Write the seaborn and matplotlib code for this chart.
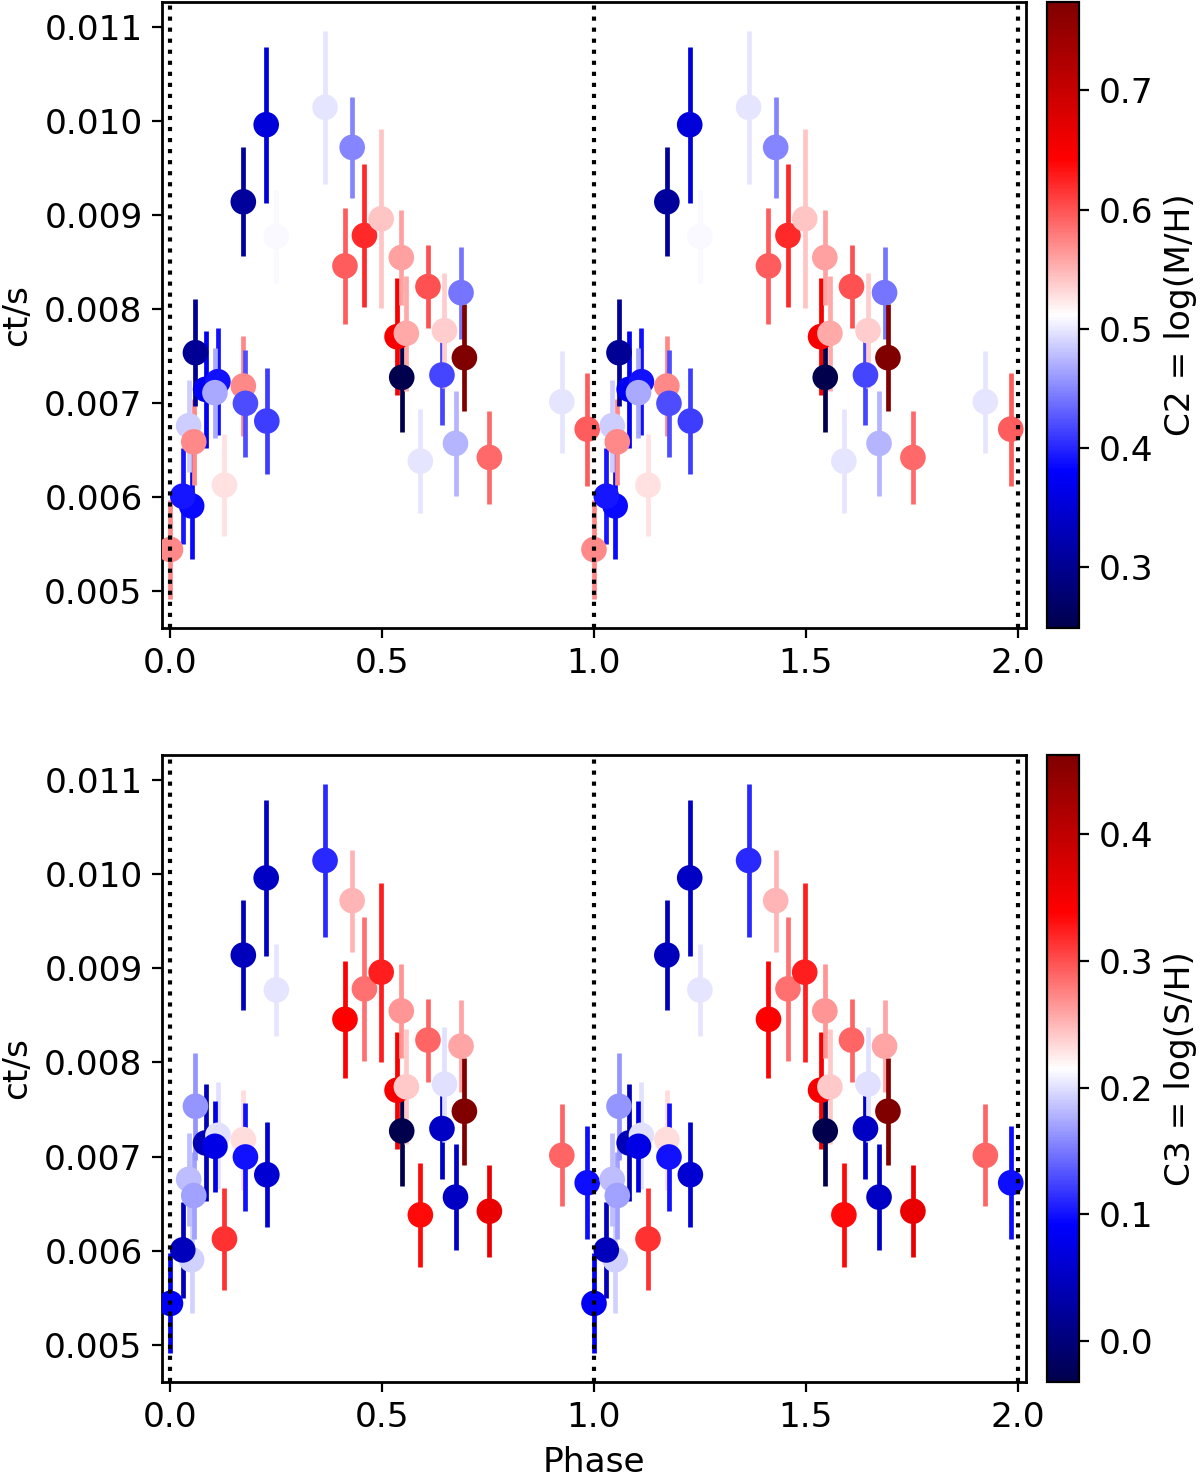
import numpy as np
import pandas as pd
import matplotlib
matplotlib.use("Agg")
import matplotlib.pyplot as plt
import seaborn as sns
from matplotlib.colors import Normalize
from matplotlib.cm import ScalarMappable

# ---- data (phase in [0,1), plotted at phase and phase+1) ----
phase = [0.000, 0.050, 0.029, 0.043, 0.055, 0.059, 0.083, 0.112, 0.105, 0.1275,
         0.172, 0.172, 0.177, 0.226, 0.2275, 0.250, 0.365, 0.412, 0.429, 0.458,
         0.4975, 0.535, 0.545, 0.546, 0.557, 0.590, 0.608, 0.641, 0.647, 0.673,
         0.686, 0.694, 0.753, 0.924, 0.984]
rate = [0.005444, 0.005907, 0.006011, 0.006759, 0.006588, 0.007535, 0.007146, 0.007227, 0.007110, 0.006128,
        0.009138, 0.007181, 0.006997, 0.009957, 0.006809, 0.008769, 0.010142, 0.008457, 0.009716, 0.008780,
        0.008957, 0.007705, 0.008546, 0.007273, 0.007741, 0.006383, 0.008237, 0.007298, 0.007769, 0.006571,
        0.008173, 0.007482, 0.006422, 0.007014, 0.006723]
err = [0.00053, 0.00056, 0.00051, 0.00049, 0.00046, 0.00057, 0.00062, 0.00057, 0.00048, 0.00054,
       0.00058, 0.00053, 0.00057, 0.00083, 0.00056, 0.00049, 0.00081, 0.00062, 0.00054, 0.00076,
       0.00095, 0.00062, 0.00050, 0.00058, 0.00061, 0.00055, 0.00044, 0.00053, 0.00061, 0.00056,
       0.00049, 0.00057, 0.00049, 0.00054, 0.00060]
c2 = [0.573, 0.386, 0.391, 0.485, 0.571, 0.303, 0.370, 0.390, 0.468, 0.527,
      0.307, 0.573, 0.421, 0.354, 0.412, 0.509, 0.498, 0.595, 0.449, 0.622,
      0.542, 0.653, 0.560, 0.249, 0.555, 0.498, 0.600, 0.416, 0.538, 0.473,
      0.440, 0.774, 0.589, 0.498, 0.595]
c3 = [0.082, 0.193, 0.047, 0.183, 0.169, 0.164, 0.042, 0.200, 0.075, 0.314,
      0.047, 0.232, 0.101, 0.052, 0.062, 0.203, 0.111, 0.339, 0.251, 0.283,
      0.324, 0.348, 0.266, -0.032, 0.242, 0.334, 0.290, 0.052, 0.200, 0.052,
      0.259, 0.462, 0.358, 0.290, 0.099]

xticks = [0.0, 0.5, 1.0, 1.5, 2.0]
yticks = [0.005, 0.006, 0.007, 0.008, 0.009, 0.010, 0.011]
cbar_labels = ["C2 = log(M/H)", "C3 = log(S/H)"]

sns.set_style("ticks")
plt.rcParams["font.family"] = ["DejaVu Sans"]
plt.rcParams.update({
    "font.size": 12.4,
    "text.color": "black",
    "axes.labelcolor": "black",
    "xtick.color": "black",
    "ytick.color": "black",
    "axes.edgecolor": "black",
})

base = pd.DataFrame({"phase": phase, "rate": rate, "err": err, "c2": c2, "c3": c3})
df = pd.concat([base, base.assign(phase=base["phase"] + 1.0)], ignore_index=True)

fig = plt.figure(figsize=(6.0, 7.385), dpi=200)
ax_pos = [[0.135, 0.5748, 0.72, 0.4238], [0.135, 0.0643, 0.72, 0.4245]]
cb_pos = [[0.8725, 0.5748, 0.0267, 0.4238], [0.8725, 0.0643, 0.0267, 0.4245]]
cmap = plt.get_cmap("seismic")

for i, col in enumerate(["c2", "c3"]):
    ax = fig.add_axes(ax_pos[i])
    norm = Normalize(vmin=df[col].min(), vmax=df[col].max())
    for _, r in df.iterrows():
        ax.errorbar(r["phase"], r["rate"], yerr=r["err"], fmt="none",
                    ecolor=cmap(norm(r[col])), elinewidth=1.7, capsize=0, zorder=2)
    sns.scatterplot(data=df, x="phase", y="rate", hue=col, palette="seismic",
                    hue_norm=(norm.vmin, norm.vmax), s=85, linewidth=0,
                    legend=False, ax=ax, zorder=3)
    for xv in [0.0, 1.0, 2.0]:
        ax.axvline(xv, color="black", linestyle=":", linewidth=1.5, zorder=4)
    ax.set_xlim(-0.02, 2.02)
    ax.set_ylim(0.00461, 0.01126)
    ax.set_xticks(xticks)
    ax.set_yticks(yticks)
    ax.set_yticklabels([f"{t:.3f}" for t in yticks])
    ax.set_xticklabels([f"{t:.1f}" for t in xticks])
    ax.set_ylabel("ct/s")
    ax.set_xlabel("Phase" if i == 1 else "")
    ax.tick_params(labelsize=12.4, colors="black")
    for s in ax.spines.values():
        s.set_linewidth(1.0)
        s.set_color("black")

    cax = fig.add_axes(cb_pos[i])
    sm = ScalarMappable(norm=norm, cmap=cmap)
    cb = fig.colorbar(sm, cax=cax)
    cb.set_label(cbar_labels[i], fontsize=12.4, color="black")
    cb.ax.tick_params(labelsize=12.4, colors="black")
    cb.outline.set_edgecolor("black")

fig.savefig("out.png", dpi=200)
